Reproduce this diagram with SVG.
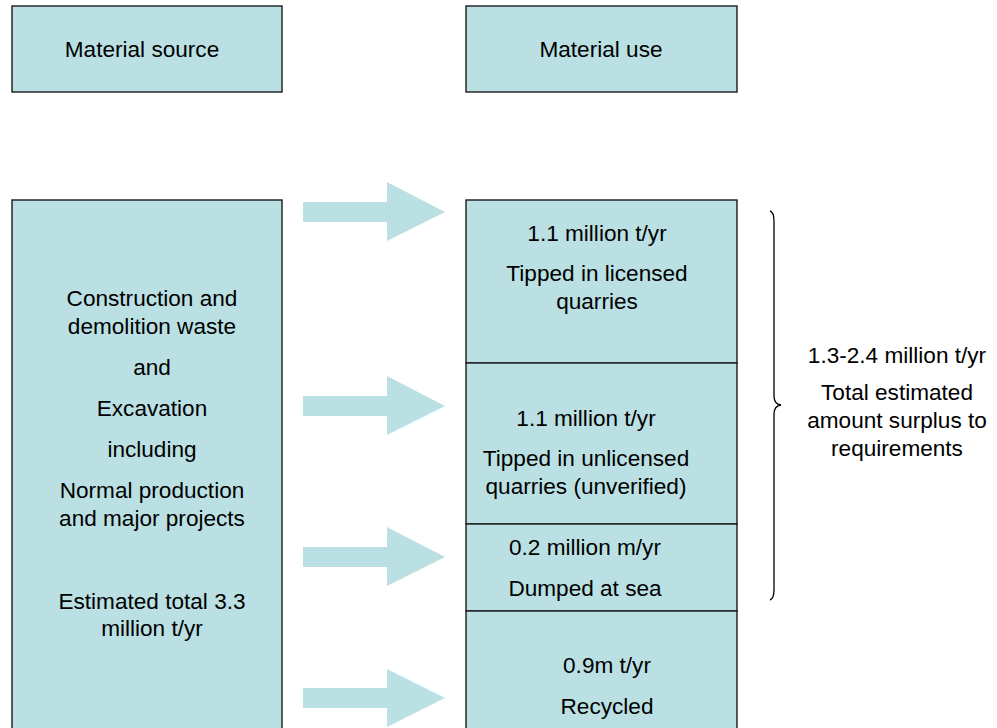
<svg xmlns="http://www.w3.org/2000/svg" width="997" height="728" viewBox="0 0 997 728">
<style>
.box{fill:#BAE0E3;stroke:#1a1a1a;stroke-width:1.4}
.arr{fill:#BAE0E3}
text{font-family:"Liberation Sans",Arial,sans-serif;font-size:22.6px;fill:#000;text-anchor:middle}
.brace{fill:none;stroke:#000;stroke-width:1.3}
</style>
<rect width="997" height="728" fill="#fff"/>
<g id="header-source"><rect class="box" x="12" y="6" width="270" height="86"/><text x="142" y="57">Material source</text></g>
<g id="header-use"><rect class="box" x="466" y="6" width="271" height="86"/><text x="601" y="57">Material use</text></g>
<g id="source">
<rect class="box" x="12" y="200" width="270" height="540"/>
<text x="152" y="306">Construction and</text>
<text x="152" y="334">demolition waste</text>
<text x="152" y="375">and</text>
<text x="152" y="416">Excavation</text>
<text x="152" y="457">including</text>
<text x="152" y="498">Normal production</text>
<text x="152" y="526">and major projects</text>
<text x="152" y="609">Estimated total 3.3</text>
<text x="152" y="636">million t/yr</text>
</g>
<g id="licensed"><rect class="box" x="466" y="200" width="271" height="163"/>
<text x="597" y="241">1.1 million t/yr</text>
<text x="597" y="281">Tipped in licensed</text>
<text x="597" y="309">quarries</text></g>
<g id="unlicensed"><rect class="box" x="466" y="363" width="271" height="161"/>
<text x="586" y="426">1.1 million t/yr</text>
<text x="586" y="466">Tipped in unlicensed</text>
<text x="586" y="494">quarries (unverified)</text></g>
<g id="sea"><rect class="box" x="466" y="524" width="271" height="87"/>
<text x="585" y="555">0.2 million m/yr</text>
<text x="585" y="596">Dumped at sea</text></g>
<g id="recycled"><rect class="box" x="466" y="611" width="271" height="130"/>
<text x="607" y="673">0.9m t/yr</text>
<text x="607" y="714">Recycled</text></g>
<g id="surplus">
<path class="brace" d="M770,211 Q774,212 774,222 L774,396 Q774,404 781,405 Q774,406 774,414 L774,589 Q774,599 770,600"/>
<text x="897" y="363">1.3-2.4 million t/yr</text>
<text x="897" y="400">Total estimated</text>
<text x="897" y="428">amount surplus to</text>
<text x="897" y="456">requirements</text>
</g>
<g id="connectors">
<polygon class="arr" points="303,202 387,202 387,182 445,212 387,241 387,222 303,222"/>
<polygon class="arr" points="303,396 387,396 387,376 445,406 387,435 387,416 303,416"/>
<polygon class="arr" points="303,547 387,547 387,527 445,557 387,586 387,567 303,567"/>
<polygon class="arr" points="303,688 387,688 387,669 445,698 387,727 387,708 303,708"/>
</g>
</svg>
